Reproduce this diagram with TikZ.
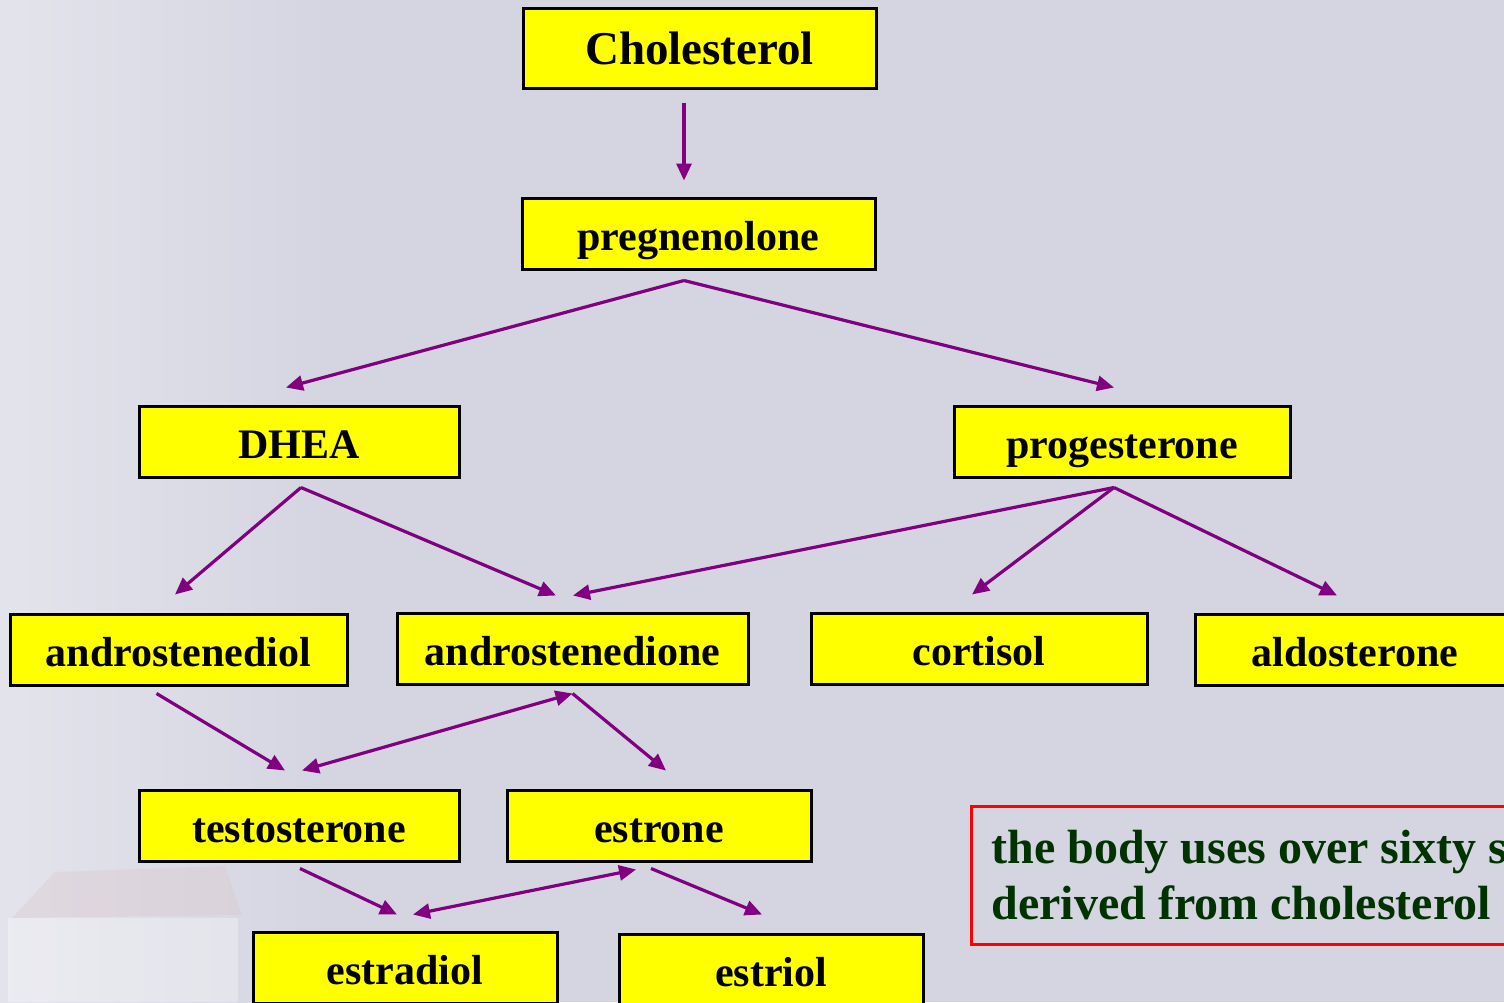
\documentclass[tikz,border=0pt]{standalone}
\usepackage{fontspec}
\setmainfont{Liberation Serif}
\usetikzlibrary{arrows.meta,calc}
\definecolor{bgc}{HTML}{D4D5E1}
\definecolor{plum}{HTML}{800080}
\definecolor{boxy}{HTML}{FFFF00}
\definecolor{leaf}{HTML}{003300}
\definecolor{roof}{HTML}{DCC6CA}

\begin{document}
\begin{tikzpicture}[x=1pt,y=-1pt,
  hormone/.style={draw=black,line width=3pt,fill=boxy,minimum height=71pt,
    inner sep=0pt,text height=33pt,text depth=0pt,
    font=\bfseries\fontsize{42}{50}\selectfont},
  note/.style={draw=red,line width=3pt,text=leaf,align=left,
    inner xsep=20pt,inner ysep=24pt,
    font=\bfseries\fontsize{48}{56}\selectfont},
  conv/.style={plum,line width=3.2pt,-{Triangle[length=17pt,width=15pt]}},
  both/.style={plum,line width=3.2pt,
    {Triangle[length=17pt,width=15pt]}-{Triangle[length=17pt,width=15pt]}}]
  \useasboundingbox (0,0) rectangle (1504,1002);
  \fill[bgc] (0,0) rectangle (1504,1002);

  % faded photo behind the left side
  \shade[left color=white!35!bgc,right color=bgc] (0,0) rectangle (330,1002);
  \fill[roof,opacity=.35] (12,918)--(55,872)--(225,866)--(242,915)--cycle;
  \fill[white,opacity=.3] (8,918) rectangle (238,1002);

  % hormones
  \node[hormone,minimum width=353pt,minimum height=80pt,
        font=\bfseries\fontsize{47}{56}\selectfont]
    (chol) at (699.5,48) {Cholesterol};
  \node[hormone,minimum width=353pt] (preg) at (698.5,233.5) {pregnenolone};
  \node[hormone,minimum width=320pt] (dhea) at (299,441.5) {DHEA};
  \node[hormone,minimum width=336pt] (prog) at (1122,441.5) {progesterone};
  \node[hormone,minimum width=337pt] (diol) at (178.5,649.5) {androstenediol};
  \node[hormone,minimum width=351pt] (dione) at (572.5,648.5) {androstenedione};
  \node[hormone,minimum width=336pt] (cort) at (979,648.5) {cortisol};
  \node[hormone,minimum width=320pt] (aldo) at (1355,649.5) {aldosterone};
  \node[hormone,minimum width=320pt] (testo) at (299,825.5) {testosterone};
  \node[hormone,minimum width=304pt] (estrone) at (659,825.5) {estrone};
  \node[hormone,minimum width=304pt] (estradiol) at (405,967.5) {estradiol};
  \node[hormone,minimum width=304pt] (estriol) at (771,969.5) {estriol};

  \node[note,anchor=north west] (fact) at (970,805)
    {the body uses over sixty steroids\\derived from cholesterol};

  % forks under the boxes
  \coordinate (pregfork) at ($(preg.south)+(-14.5,10)$);
  \coordinate (dheafork) at ($(dhea.south)+(2,9)$);
  \coordinate (progfork) at ($(prog.south)+(-8,9)$);
  \coordinate (dionefork) at ($(dione.south)+(0,8)$);

  \draw[conv] ($(chol.south)+(-15.5,13)$) -- ($(preg.north)+(-14.5,-16)$);
  \draw[conv] (pregfork) -- ($(dhea.north)+(-13,-17)$);
  \draw[conv] (pregfork) -- ($(prog.north)+(-8,-17)$);
  \draw[conv] (dheafork) -- ($(diol.north)+(-3.5,-18)$);
  \draw[conv] (dheafork) -- ($(dione.north)+(-16.5,-16)$);
  \draw[conv] (progfork) -- ($(dione.north)+(0.5,-16)$);
  \draw[conv] (progfork) -- ($(cort.north)+(-7,-17)$);
  \draw[conv] (progfork) -- ($(aldo.north)+(-18,-17)$);
  \draw[conv] ($(diol.south)+(-22,7)$) -- ($(testo.north)+(-14,-18)$);
  \draw[both] (dionefork) -- ($(testo.north)+(3,-18)$);
  \draw[conv] (dionefork) -- ($(estrone.north)+(7,-18)$);
  \draw[conv] ($(testo.south)+(1,6)$) -- ($(estradiol.north)+(-8,-16)$);
  \draw[both] ($(estrone.south)+(-23,7)$) -- ($(estradiol.north)+(8,-16)$);
  \draw[conv] ($(estrone.south)+(-8,6)$) -- ($(estriol.north)+(-9,-18)$);
\end{tikzpicture}
\end{document}
